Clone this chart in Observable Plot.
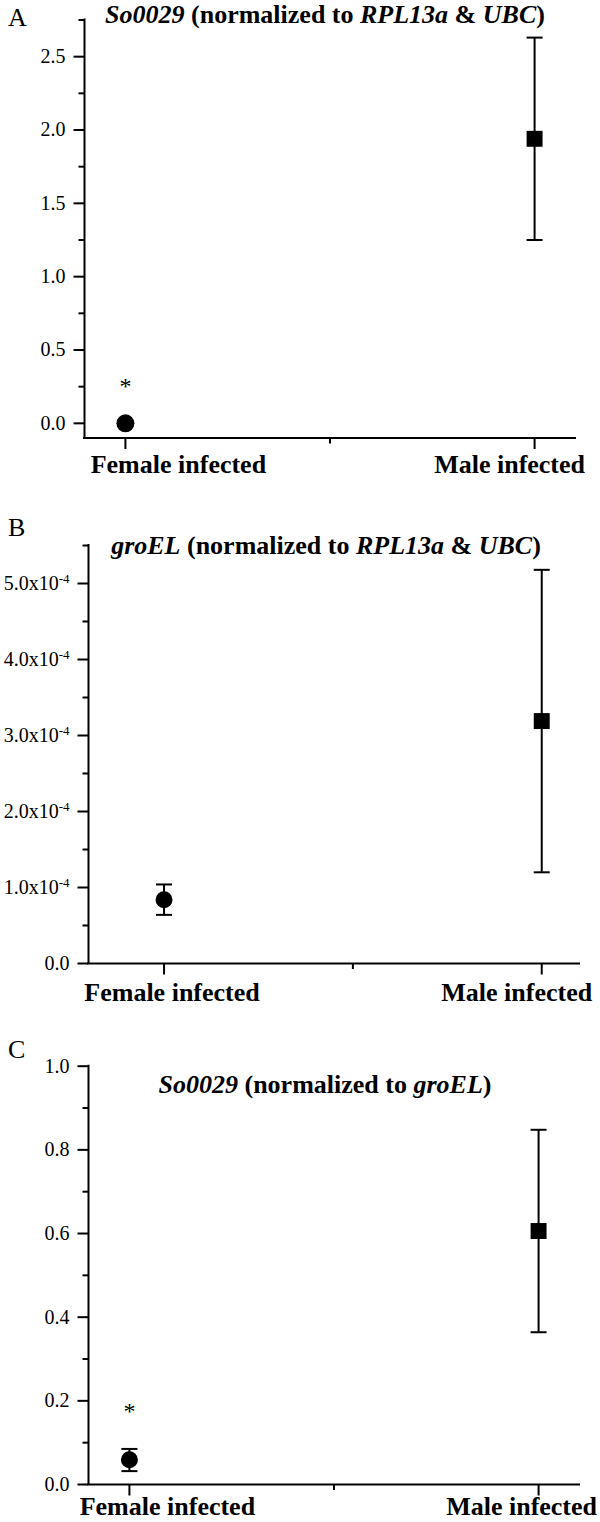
<!DOCTYPE html>
<html><head><meta charset="utf-8">
<script src="https://cdn.jsdelivr.net/npm/d3@7"></script>
<script src="https://cdn.jsdelivr.net/npm/@observablehq/plot@0.6"></script>
<style>
body{margin:0;background:#fff;}
#root{position:relative;width:600px;height:1522px;overflow:hidden;font-family:"Liberation Serif","Times New Roman",serif;color:#000;background:#fff;}
.panel{position:absolute;left:0;}
.letter{position:absolute;font-size:26px;line-height:26px;white-space:nowrap;}
.ttl{position:absolute;font-size:26px;line-height:26px;font-weight:bold;white-space:nowrap;transform:translateX(-50%);}
</style></head><body><div id="root"></div>
<script>
// ---- data ----
const categories = ["Female infected", "Male infected"];
const xPos = [1, 2];
const xMinor = [1.5];

// Panel A: So0029 normalized to RPL13a & UBC
const aMean = [0.0, 1.94];
const aLow  = [-0.004, 1.25];
const aHigh = [0.004, 2.63];
const aStar = [0.253];            // "*" above Female infected
const aMajor = [0, 0.5, 1.0, 1.5, 2.0, 2.5];
const aMinor = [0.25, 0.75, 1.25, 1.75, 2.25, 2.75];

// Panel B: groEL normalized to RPL13a & UBC
const bMean = [0.84e-4, 3.19e-4];
const bLow  = [0.64e-4, 1.20e-4];
const bHigh = [1.04e-4, 5.18e-4];
const bMajor = [0, 1e-4, 2e-4, 3e-4, 4e-4, 5e-4];
const bMinor = [0.5e-4, 1.5e-4, 2.5e-4, 3.5e-4, 4.5e-4, 5.5e-4];

// Panel C: So0029 normalized to groEL
const cMean = [0.059, 0.606];
const cLow  = [0.032, 0.364];
const cHigh = [0.085, 0.848];
const cStar = [0.176];
const cMajor = [0, 0.2, 0.4, 0.6, 0.8, 1.0];
const cMinor = [0.1, 0.3, 0.5, 0.7, 0.9];

const capSymbol = {draw(ctx, size){ const w = Math.sqrt(size / Math.PI); ctx.moveTo(-w, 0); ctx.lineTo(w, 0); }};
const FONT = '"Liberation Serif","Times New Roman",serif';

function makePanel(cfg){
  const rows = categories.map((c, i) => ({cat: c, x: xPos[i], m: cfg.mean[i], lo: cfg.low[i], hi: cfg.high[i]}));
  const stars = (cfg.star || []).map((v, i) => ({x: xPos[i], y: v}));
  const marks = [
    Plot.axisY(cfg.yMajor, {tickSize: 10.5, tickPadding: 8.5, tickFormat: cfg.fmt, fontSize: 20, strokeWidth: 2, label: null}),
    Plot.axisY(cfg.yMinor, {tickSize: 5.5, tickFormat: () => "", strokeWidth: 2, label: null}),
    Plot.axisX(xMinor, {tickSize: 6, tickFormat: () => "", strokeWidth: 2, label: null}),
    Plot.axisX(xPos, {tickSize: 11.5, tickFormat: () => "", strokeWidth: 2, label: null}),
    Plot.axisX([xPos[0]], {tickSize: 0, tickPadding: cfg.labPad, tickFormat: d => categories[xPos.indexOf(d)], fontSize: 26, fontWeight: "bold", dx: cfg.dxF, label: null}),
    Plot.axisX([xPos[1]], {tickSize: 0, tickPadding: cfg.labPad, tickFormat: d => categories[xPos.indexOf(d)], fontSize: 26, fontWeight: "bold", dx: cfg.dxM, label: null}),
    Plot.ruleX([cfg.xDomain[0]], {strokeWidth: 2, strokeLinecap: "square"}),
    Plot.ruleY([cfg.yDomain[0]], {strokeWidth: 2, strokeLinecap: "square"}),
    Plot.ruleX(rows, {x: "x", y1: "lo", y2: "hi", strokeWidth: 2}),
    Plot.dot(rows, {x: "x", y: "lo", symbol: capSymbol, r: 8, stroke: "black", strokeWidth: 2, fill: "none"}),
    Plot.dot(rows, {x: "x", y: "hi", symbol: capSymbol, r: 8, stroke: "black", strokeWidth: 2, fill: "none"}),
    Plot.dot([rows[0]], {x: "x", y: "m", symbol: "circle", r: cfg.rc, fill: "black", stroke: "none"}),
    Plot.dot([rows[1]], {x: "x", y: "m", symbol: "square", r: 9, fill: "black", stroke: "none"}),
    Plot.text(stars, {x: "x", y: "y", text: () => "*", fontSize: 24, lineAnchor: "middle"})
  ];
  const svg = Plot.plot({
    width: 600, height: cfg.height,
    marginLeft: cfg.ml, marginRight: cfg.mr, marginTop: cfg.mt, marginBottom: cfg.mb,
    x: {domain: cfg.xDomain, label: null},
    y: {domain: cfg.yDomain, label: null},
    style: {fontFamily: FONT, fontSize: "20px", color: "#000", background: "transparent", overflow: "visible"},
    marks
  });
  // superscript exponents in tick labels ("x10^-4")
  svg.querySelectorAll("text").forEach(t => {
    const s = t.textContent; const k = s.indexOf("^");
    if (k < 0 || t.querySelector("tspan")) return;
    t.textContent = s.slice(0, k);
    const ts = document.createElementNS("http://www.w3.org/2000/svg", "tspan");
    ts.setAttribute("dy", "-0.55em"); ts.setAttribute("font-size", "13");
    ts.textContent = s.slice(k + 1);
    t.appendChild(ts);
  });
  const div = document.createElement("div");
  div.className = "panel"; div.style.top = cfg.top + "px";
  div.appendChild(svg);
  return div;
}

const root = document.getElementById("root");
root.appendChild(makePanel({
  mean: aMean, low: aLow, high: aHigh, star: aStar,
  yMajor: aMajor, yMinor: aMinor, fmt: d => d.toFixed(1),
  xDomain: [0.9, 2.1], yDomain: [-0.1, 2.75],
  top: 0, height: 480, ml: 84, mr: 25, mt: 19.5, mb: 42.5,
  rc: 9, labPad: 16.5, dxF: 53, dxM: -25
}));
root.appendChild(makePanel({
  mean: bMean, low: bLow, high: bHigh,
  yMajor: bMajor, yMinor: bMinor, fmt: d => d === 0 ? "0.0" : (d * 1e4).toFixed(1) + "x10^-4",
  xDomain: [0.8, 2.1], yDomain: [0, 5.5e-4],
  top: 480, height: 530, ml: 88, mr: 21, mt: 65, mb: 47,
  rc: 8.5, labPad: 19.5, dxF: 8, dxM: -25
}));
root.appendChild(makePanel({
  mean: cMean, low: cLow, high: cHigh, star: cStar,
  yMajor: cMajor, yMinor: cMinor, fmt: d => d.toFixed(1),
  xDomain: [0.9, 2.1], yDomain: [0, 1.0],
  top: 1010, height: 512, ml: 88, mr: 21, mt: 55.7, mb: 38,
  rc: 8.5, labPad: 12.5, dxF: 38, dxM: -17
}));

// titles and panel letters (baseline = top + 0.8375 * 26)
const texts = [
  {cls: "letter", html: "A", left: 8, base: 26.7},
  {cls: "letter", html: "B", left: 8, base: 536.7},
  {cls: "letter", html: "C", left: 8, base: 1058.3},
  {cls: "ttl", html: "<i>So0029</i> (normalized to <i>RPL13a</i> &amp; <i>UBC</i>)", left: 325, base: 23.5},
  {cls: "ttl", html: "<i>groEL</i> (normalized to <i>RPL13a</i> &amp; <i>UBC</i>)", left: 326, base: 555},
  {cls: "ttl", html: "<i>So0029</i> (normalized to <i>groEL</i>)", left: 325, base: 1094}
];
texts.forEach(t => {
  const d = document.createElement("div");
  d.className = t.cls; d.innerHTML = t.html;
  d.style.left = t.left + "px"; d.style.top = (t.base - 0.8375 * 26) + "px";
  root.appendChild(d);
});
</script></body></html>
